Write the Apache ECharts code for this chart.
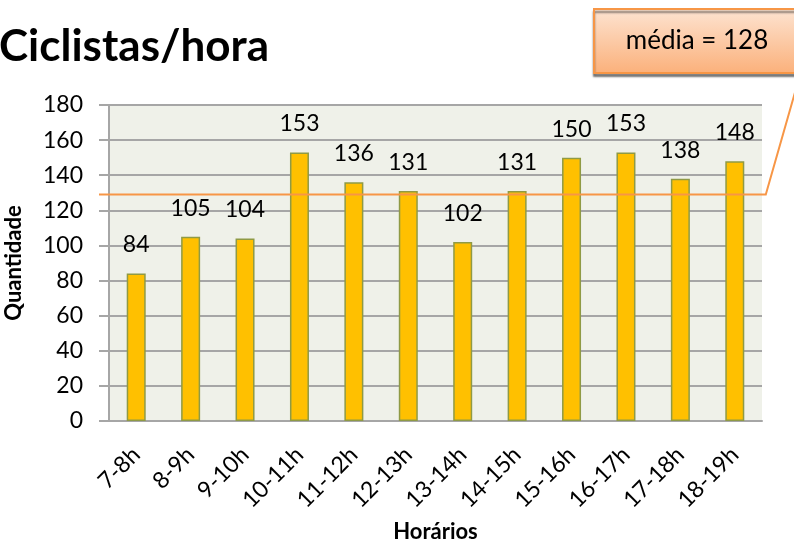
<!DOCTYPE html>
<html>
<head>
<meta charset="utf-8">
<script src="https://cdn.jsdelivr.net/npm/echarts@6/dist/echarts.min.js"></script>
<style>
  html, body { margin: 0; padding: 0; background: #fff; }
  #chart { width: 794px; height: 541px; }
</style>
</head>
<body>
<div id="chart"></div>
<script>
const horarios = ['7-8h', '8-9h', '9-10h', '10-11h', '11-12h', '12-13h', '13-14h', '14-15h', '15-16h', '16-17h', '17-18h', '18-19h']
const ciclistas = [84, 105, 104, 153, 136, 131, 102, 131, 150, 153, 138, 148]
const media = 128
// where the orange line sits in the picture
const linhaMedia = 129

const font = 'Lato, "Open Sans", sans-serif'
const chart = echarts.init(document.getElementById('chart'))

chart.setOption({
  animation: false,
  title: {
    text: 'Ciclistas/hora',
    left: -1,
    top: 25,
    padding: 0,
    textStyle: { fontFamily: font, fontSize: 44, fontWeight: 'bold', color: '#000' }
  },
  grid: { left: 109, right: 32, top: 105, bottom: 120, outerBoundsMode: 'none' },
  xAxis: {
    type: 'category',
    data: horarios,
    name: 'Horários',
    nameLocation: 'middle',
    nameGap: 100,
    nameTextStyle: { fontFamily: font, fontSize: 22, fontWeight: 'bold', color: '#000' },
    axisLine: { lineStyle: { color: '#a6a6a6', width: 2 } },
    axisTick: { show: false },
    axisLabel: { rotate: 45, margin: 30, fontFamily: font, fontSize: 23, color: '#000' }
  },
  yAxis: {
    type: 'value',
    min: 0,
    max: 180,
    interval: 20,
    name: 'Quantidade',
    nameLocation: 'middle',
    nameGap: 84,
    nameTextStyle: { fontFamily: font, fontSize: 22, fontWeight: 'bold', color: '#000' },
    axisLine: { show: true, lineStyle: { color: '#a6a6a6', width: 2 } },
    axisTick: { show: true, inside: false, length: 10, lineStyle: { color: '#a6a6a6', width: 2 } },
    axisLabel: { margin: 26, fontFamily: font, fontSize: 23, color: '#000' },
    splitLine: { lineStyle: { color: '#a6a6a6', width: 2 } },
    splitArea: { show: true, areaStyle: { color: ['#eff1e9', '#eff1e9'] } }
  },
  series: [{
    type: 'bar',
    data: ciclistas,
    barWidth: 19,
    itemStyle: { color: '#ffc000', borderColor: '#8f9a45', borderWidth: 1.5 },
    label: {
      show: true,
      position: 'top',
      distance: 17,
      fontFamily: font,
      fontSize: 23,
      color: '#000'
    }
  }]
})

// linha da média + caixa de texto
const yLinha = chart.convertToPixel({ yAxisIndex: 0 }, linhaMedia)
const xFim = chart.convertToPixel({ xAxisIndex: 0 }, horarios[horarios.length - 1]) + 31
chart.setOption({
  graphic: [
    {
      type: 'polyline',
      silent: true,
      z: 10,
      shape: { points: [[99, yLinha], [xFim, yLinha], [800, 75]] },
      style: { stroke: '#f79646', lineWidth: 2, fill: null }
    },
    {
      type: 'rect',
      z: 11,
      shape: { x: 594, y: 9, width: 220, height: 64 },
      style: {
        fill: new echarts.graphic.LinearGradient(0, 0, 0, 1, [
          { offset: 0, color: '#fde4d2' },
          { offset: 1, color: '#fbb07a' }
        ]),
        stroke: '#f79646',
        lineWidth: 2,
        shadowColor: 'rgba(0,0,0,0.45)',
        shadowBlur: 2,
        shadowOffsetY: 3
      }
    },
    {
      type: 'text',
      z: 12,
      x: 697,
      y: 41,
      style: {
        text: 'média = ' + media,
        fontFamily: font,
        fontSize: 26,
        fill: '#000',
        align: 'center',
        verticalAlign: 'middle'
      }
    }
  ]
})
</script>
</body>
</html>
